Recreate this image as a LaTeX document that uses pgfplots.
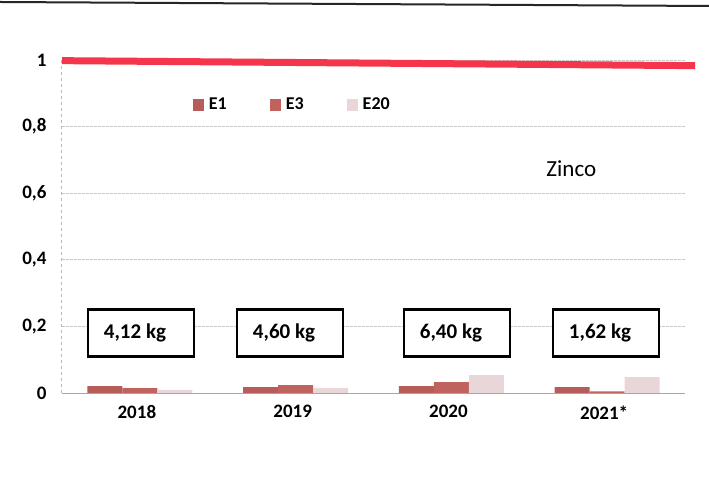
\documentclass[border=0pt]{standalone}
\usepackage{pgfplots}
\pgfplotsset{compat=1.18}
\usepackage{fontspec}
\setmainfont{Carlito}
\definecolor{eone}{HTML}{B85C5A}
\definecolor{ethree}{HTML}{C0625E}
\definecolor{etwenty}{HTML}{E8D6D8}
\definecolor{limred}{HTML}{F5364A}
\begin{document}
\begin{tikzpicture}[x=1pt,y=1pt]
\useasboundingbox (0,0) rectangle (709,486);
\draw[line width=2pt,black!85] (0,484) -- (709,480);
\begin{axis}[
  at={(62pt,93pt)}, anchor=south west,
  scale only axis, width=623pt, height=333pt,
  xmin=-0.5, xmax=3.5, ymin=0, ymax=1,
  axis x line=bottom, axis y line=left,
  x axis line style={gray!70, line width=0.8pt, -},
  y axis line style={gray!55, line width=1pt, dashed, -},
  xtick={0,1,2,3},
  xticklabels={2018,2019,2020,2021*},
  ytick={0,0.2,0.4,0.6,0.8,1},
  major tick length=0pt,
  ymajorgrids,
  grid style={gray!45, line width=0.8pt, dash pattern=on 3pt off 1pt},
  /pgf/number format/assume math mode=true,
  /pgf/number format/use comma,
  yticklabel style={font=\fontsize{19}{21}\selectfont\bfseries, anchor=east, xshift=-12pt},
  xticklabel style={font=\fontsize{19}{21}\selectfont\bfseries, yshift=-9pt, xshift=-3pt},
  ybar, bar width=35pt,
  clip=false,
  legend columns=3,
  legend style={draw=none, fill=none, at={(0.205,0.895)}, anchor=north west,
    font=\fontsize{18}{20}\selectfont\bfseries,
    /tikz/every odd column/.append style={column sep=4pt},
    /tikz/every even column/.append style={column sep=42pt},
    nodes={inner sep=1pt}},
  legend image code/.code={\fill[#1] (0pt,-6pt) rectangle (11pt,6pt);},
]
\addplot[fill=eone, draw=none, bar shift=-35pt] coordinates {(0,0.021) (1,0.018) (2,0.021) (3,0.018)};
\addlegendentry{E1}
\addplot[fill=ethree, draw=none, bar shift=0pt] coordinates {(0,0.015) (1,0.024) (2,0.033) (3,0.005)};
\addlegendentry{E3}
\addplot[fill=etwenty, draw=none, bar shift=35pt] coordinates {(0,0.009) (1,0.015) (2,0.054) (3,0.048)};
\addlegendentry{E20}
\addplot[limred, line width=7pt, sharp plot, forget plot] coordinates {(-0.5,0.998) (3.565,0.983)};
\node[font=\fontsize{23}{25}\selectfont] at (axis cs:2.77,0.674) {Zinco};
\foreach \xx/\tt in {0.007/{4,12 kg},0.964/{4,60 kg},2.036/{6,40 kg},2.993/{1,62 kg}} {
  \edef\tmp{\noexpand\node[draw=black, line width=2.2pt, fill=white, minimum width=106pt, minimum height=47pt,
    label={[xshift=-6pt, font=\noexpand\fontsize{21}{23}\noexpand\selectfont\noexpand\bfseries]center:\tt}]
    at (axis cs:\xx,0.18) {};}
  \tmp
}
\end{axis}
\end{tikzpicture}
\end{document}
